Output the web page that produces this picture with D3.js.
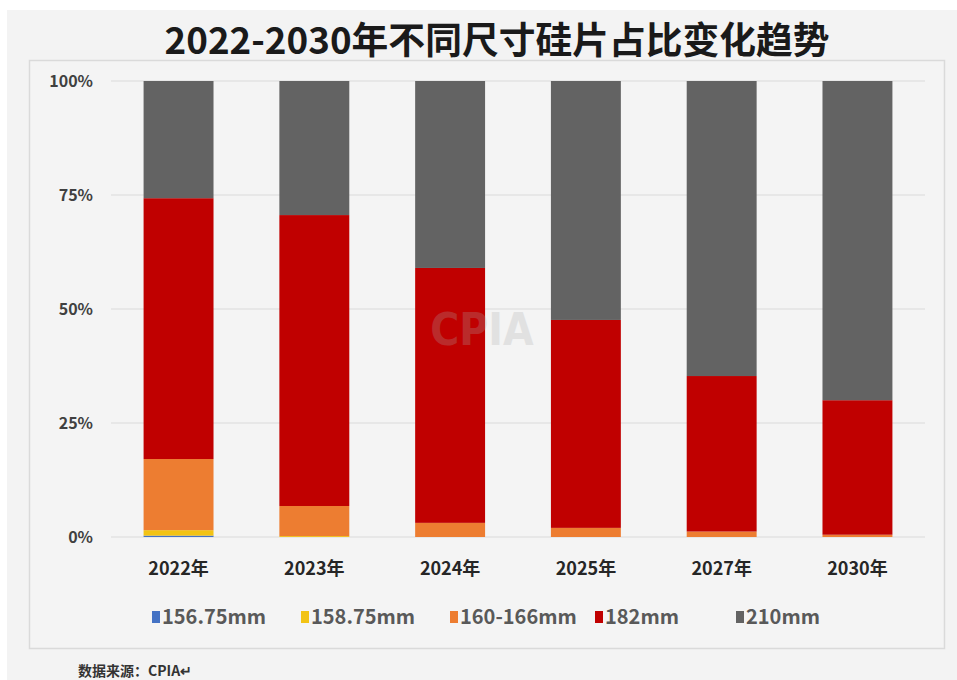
<!DOCTYPE html>
<html><head><meta charset="utf-8">
<script src="https://cdn.jsdelivr.net/npm/d3@7"></script>
<style>
html,body{margin:0;padding:0;background:#fff;}
svg{display:block;}
</style></head>
<body>
<svg id="chart" width="957" height="680"></svg>
<script>
const categories = ["2022年","2023年","2024年","2025年","2027年","2030年"];
const seriesNames = ["156.75mm","158.75mm","160-166mm","182mm","210mm"];
const s15675 = [0.3, 0, 0, 0, 0, 0];
const s15875 = [1.2, 0.2, 0, 0, 0, 0];
const s160166 = [15.6, 6.6, 3.1, 2.0, 1.2, 0.5];
const s182 = [57.2, 63.8, 55.9, 45.6, 34.1, 29.5];
const s210 = [25.7, 29.4, 41.0, 52.4, 64.7, 70.0];
const yTicks = [0, 25, 50, 75, 100];
const colors = ["#4472c4","#f2c314","#ed7d31","#c00000","#636363"];

const svg = d3.select("#chart");
const W = 957, H = 680;
const font = "'Noto Sans CJK SC','Noto Sans',sans-serif";

// backgrounds
svg.append("rect").attr("x",0).attr("y",0).attr("width",W).attr("height",H).attr("fill","#ffffff");
svg.append("rect").attr("x",7).attr("y",10).attr("width",W-7).attr("height",H-10).attr("fill","#f3f3f3");
svg.append("rect").attr("x",29.5).attr("y",60.5).attr("width",915).attr("height",588)
  .attr("fill","#f4f4f4").attr("stroke","#dadada").attr("stroke-width",1.5);

// title
svg.append("text").attr("x",497).attr("y",54).attr("text-anchor","middle")
  .attr("font-family",font).attr("font-weight",700).attr("font-size",37).attr("fill","#1a1a1a")
  .attr("textLength",665).attr("lengthAdjust","spacingAndGlyphs")
  .text("2022-2030年不同尺寸硅片占比变化趋势");

const x = d3.scaleBand().domain(categories).range([111, 925]).paddingInner(0.485).paddingOuter(0.24);
const y = d3.scaleLinear().domain([0,100]).range([537, 81]);

// gridlines
svg.append("g").selectAll("line").data(yTicks).join("line")
  .attr("x1",111).attr("x2",925).attr("y1",d=>y(d)).attr("y2",d=>y(d))
  .attr("stroke","#d9d9d9").attr("stroke-width",1.2);

// y axis
const yAxis = d3.axisLeft(y).tickValues(yTicks).tickFormat(d=>d+"%").tickSize(0).tickPadding(0);
const gy = svg.append("g").attr("transform","translate(93,0)").call(yAxis);
gy.select(".domain").remove();
gy.selectAll("text").attr("font-family",font).attr("font-weight",700).attr("font-size",16).attr("fill","#404040").attr("dy","0.32em");

// stacked data
const table = categories.map((c,i)=>({cat:c, "156.75mm":s15675[i], "158.75mm":s15875[i], "160-166mm":s160166[i], "182mm":s182[i], "210mm":s210[i]}));
const stack = d3.stack().keys(seriesNames)(table);

svg.append("g").selectAll("g").data(stack).join("g")
  .attr("fill",(d,i)=>colors[i])
  .selectAll("rect").data(d=>d).join("rect")
  .attr("x",d=>x(d.data.cat)).attr("width",x.bandwidth())
  .attr("y",d=>y(d[1])).attr("height",d=>Math.max(0,y(d[0])-y(d[1])));

// watermark
svg.append("text").attr("x",482).attr("y",345).attr("text-anchor","middle")
  .attr("font-family","'Liberation Sans Narrow','DejaVu Sans Condensed',sans-serif").attr("font-weight",700)
  .attr("font-size",44).attr("fill","#aaa").attr("opacity",0.25).text("CPIA");

// x axis
const xAxis = d3.axisBottom(x).tickSize(0).tickPadding(0);
const gx = svg.append("g").attr("transform","translate(0,562)").call(xAxis);
gx.select(".domain").remove();
gx.selectAll("text").attr("font-family",font).attr("font-weight",700).attr("font-size",18).attr("fill","#262626").attr("dy","0.7em");

// legend
const legendX = [152, 301, 450, 595, 736];
const lg = svg.append("g").selectAll("g").data(seriesNames).join("g")
  .attr("transform",(d,i)=>`translate(${legendX[i]},617)`);
lg.append("rect").attr("x",0).attr("y",-6).attr("width",8).attr("height",12).attr("fill",(d,i)=>colors[i]);
lg.append("text").attr("x",10).attr("y",0).attr("dy","0.36em")
  .attr("font-family",font).attr("font-weight",600).attr("font-size",20).attr("fill","#595959").text(d=>d);

// source
svg.append("text").attr("x",78).attr("y",676)
  .attr("font-family",font).attr("font-weight",700).attr("font-size",14).attr("fill","#333")
  .text("数据来源：CPIA↵");
</script>
</body></html>
